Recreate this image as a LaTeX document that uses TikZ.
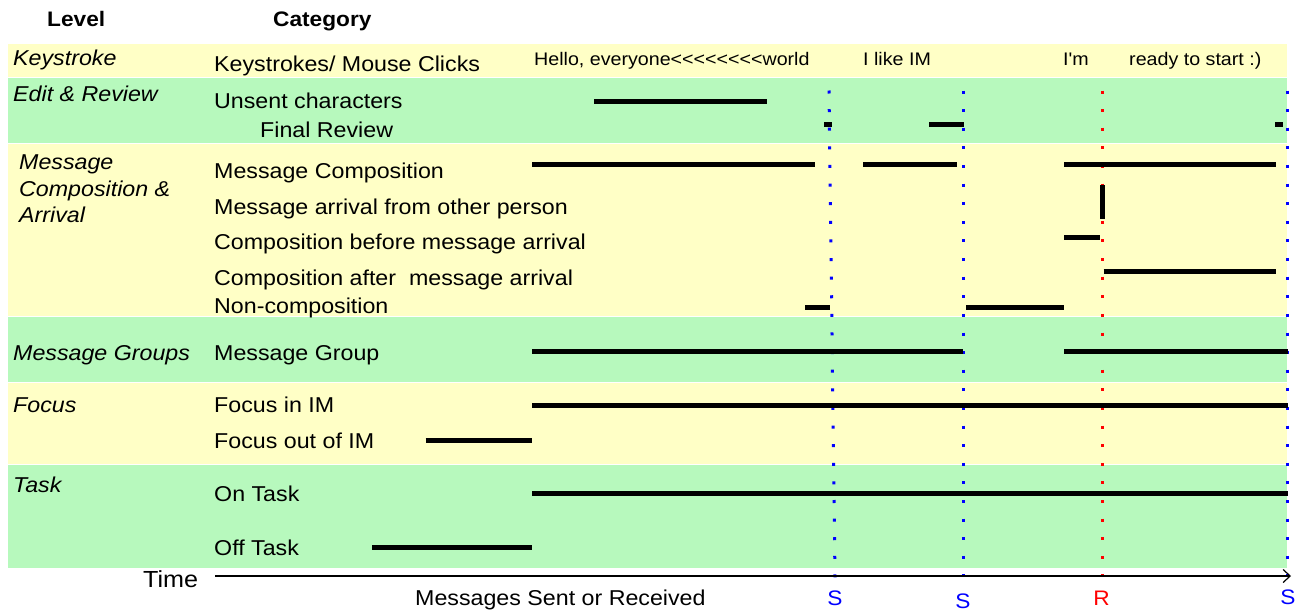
\documentclass[tikz,border=0pt]{standalone}
\usepackage{fontspec}
\setmainfont{Liberation Sans}[FakeStretch=1.08,Ligatures=TeXOff]
\usetikzlibrary{arrows.meta}
\definecolor{bandyellow}{RGB}{255,255,198}
\definecolor{bandgreen}{RGB}{183,249,189}
\definecolor{sblue}{RGB}{0,0,255}
\definecolor{rred}{RGB}{255,0,0}
\begin{document}
\begin{tikzpicture}[x=1pt,y=-1pt,
  yband/.style={fill=bandyellow,draw=white,line width=1pt},
  gband/.style={fill=bandgreen,draw=white,line width=1pt},
  bar/.style={line width=5pt,black},
  cat/.style={anchor=base west,inner sep=0pt,font=\fontsize{21.5}{26.5}\selectfont},
  lvl/.style={anchor=base west,inner sep=0pt,align=left,font=\fontsize{21.5}{26.5}\selectfont\itshape},
  hdr/.style={anchor=base west,inner sep=0pt,font=\fontsize{21}{25}\selectfont\bfseries},
  ks/.style={anchor=base west,inner sep=0pt,font=\fontsize{18.2}{22}\selectfont},
  evlabel/.style={anchor=base,inner sep=0pt,font=\fontsize{21}{25}\selectfont},
  evdots/.style={line width=3pt,dash pattern=on 3pt off 15.615pt},
]
\useasboundingbox (0,0) rectangle (1296,611);
\fill[white] (0,0) rectangle (1296,611);

% bands
\draw[yband] (7,43.3) rectangle (1287,77.7);
\draw[gband] (7,77.7) rectangle (1287,143.3);
\draw[yband] (7,143.3) rectangle (1287,316.7);
\draw[gband] (7,316.7) rectangle (1287,382.7);
\draw[yband] (7,382.7) rectangle (1287,464.3);
\draw[gband] (7,464.3) rectangle (1287,568.7);

% headers
\node[hdr] (hlevel) at (47,26) {Level};
\node[hdr] (hcat) at (273,26) {Category};

% level labels
\node[lvl] (lks) at (13,65) {Keystroke};
\node[lvl] (ler) at (13,101) {Edit \& Review};
\node[lvl,anchor=north west] (lmc) at (19,155) {Message\\Composition \&\\Arrival};
\node[lvl] (lmg) at (13,360) {Message Groups};
\node[lvl] (lfo) at (13,412) {Focus};
\node[lvl] (lta) at (13,492) {Task};

% category labels
\node[cat] (cks) at (214,71) {Keystrokes/ Mouse Clicks};
\node[cat] (cun) at (214,108) {Unsent characters};
\node[cat] (cfr) at (260,137) {Final Review};
\node[cat] (cmc) at (214,178) {Message Composition};
\node[cat] (cma) at (214,214) {Message arrival from other person};
\node[cat] (ccb) at (214,249) {Composition before message arrival};
\node[cat] (cca) at (214,285) {Composition after~ message arrival};
\node[cat] (cnc) at (214,313) {Non-composition};
\node[cat] (cmg) at (214,360) {Message Group};
\node[cat] (cfi) at (214,412) {Focus in IM};
\node[cat] (cfo) at (214,448) {Focus out of IM};
\node[cat] (con) at (214,501) {On Task};
\node[cat] (cof) at (214,555) {Off Task};

% keystroke texts
\node[ks] (k1) at (534,65) {Hello, everyone<<<<<<<<world};
\node[ks] (k2) at (863,65) {I like IM};
\node[ks] (k3) at (1063,65) {I'm};
\node[ks] (k4) at (1129,65) {ready to start :)};

% event markers
\coordinate (d1a) at (829,90.5);  \coordinate (d1b) at (835,578);
\coordinate (d2a) at (963,90.5);  \coordinate (d2b) at (963,578);
\coordinate (d3a) at (1102,90.5); \coordinate (d3b) at (1102,578);
\coordinate (d4a) at (1287.5,90.5); \coordinate (d4b) at (1287.5,578);
\draw[evdots,sblue] (d1a) -- (d1b);
\draw[evdots,sblue] (d2a) -- (d2b);
\draw[evdots,rred] (d3a) -- (d3b);
\draw[evdots,sblue] (d4a) -- (d4b);

% bars
\draw[bar] (594,101.7) -- (767,101.7);
\draw[bar] (824,124) -- (832,124);
\draw[bar] (929,124) -- (964,124);
\draw[bar] (1275,124) -- (1283,124);
\draw[bar] (532,164) -- (815,164);
\draw[bar] (863,164) -- (957,164);
\draw[bar] (1064,164) -- (1276,164);
\draw[bar] (1102.5,185) -- (1102.5,219);
\draw[bar] (1064,237) -- (1099.5,237);
\draw[bar] (1103.6,271.7) -- (1276,271.7);
\draw[bar] (805,307.7) -- (830,307.7);
\draw[bar] (966,307.7) -- (1064,307.7);
\draw[bar] (532,351.7) -- (963,351.7);
\draw[bar] (1064,351.7) -- (1288,351.7);
\draw[bar] (532,405.7) -- (1288,405.7);
\draw[bar] (425.6,440.7) -- (532,440.7);
\draw[bar] (532,493) -- (1288,493);
\draw[bar] (372,547) -- (532,547);

% time axis
\node[anchor=base west,inner sep=0pt,font=\fontsize{23.3}{28}\selectfont] (time) at (143,587) {Time};
\coordinate (t0) at (215,576);
\coordinate (t1) at (1291,576);
\draw[line width=1.2pt,-{Straight Barb[length=7pt,width=13pt]}] (t0) -- (t1);
\node[cat] (msr) at (415,605) {Messages Sent or Received};
\node[evlabel,text=sblue] (e1) at (835,605) {S};
\node[evlabel,text=sblue] (e2) at (963,608) {S};
\node[evlabel,text=rred] (e3) at (1101.5,605) {R};
\node[evlabel,text=sblue] (e4) at (1288,604) {S};
\end{tikzpicture}
\end{document}
